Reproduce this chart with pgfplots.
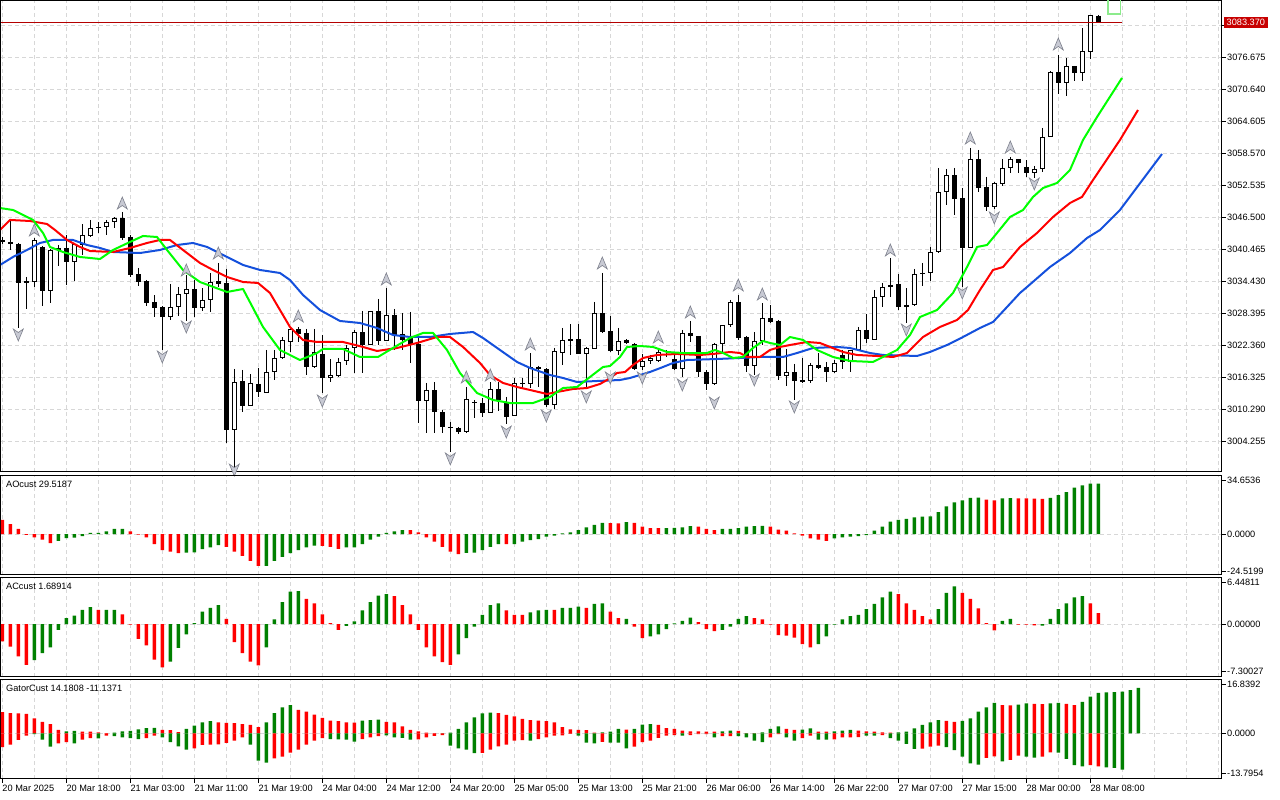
\documentclass[border=0pt]{standalone}
\usepackage{fontspec}
\setmainfont{Liberation Sans}
\usepackage{pgfplots}
\usepackage{pgfplotstable}
\pgfplotsset{compat=1.18}

\definecolor{magreen}{RGB}{0,255,0}
\definecolor{mared}{RGB}{255,0,0}
\definecolor{mablue}{RGB}{20,80,220}
\definecolor{hgreen}{RGB}{0,128,0}
\definecolor{hred}{RGB}{255,0,0}
\definecolor{gridc}{RGB}{215,215,215}
\definecolor{pline}{RGB}{180,0,0}
\definecolor{plabel}{RGB}{200,0,0}
\definecolor{arrowfill}{RGB}{200,202,212}
\definecolor{arrowdraw}{RGB}{125,128,140}
\definecolor{ugreen}{RGB}{140,235,140}

\newcommand{\lbl}{\fontsize{9.2}{11}\selectfont}

\pgfdeclareplotmark{fup}{%
  \pgfpathmoveto{\pgfqpoint{0pt}{6pt}}%
  \pgfpathlineto{\pgfqpoint{5pt}{-6pt}}%
  \pgfpathlineto{\pgfqpoint{0pt}{-2.5pt}}%
  \pgfpathlineto{\pgfqpoint{-5pt}{-6pt}}%
  \pgfpathclose
  \pgfusepathqfillstroke}
\pgfdeclareplotmark{fdown}{%
  \pgfpathmoveto{\pgfqpoint{0pt}{-6pt}}%
  \pgfpathlineto{\pgfqpoint{5pt}{6pt}}%
  \pgfpathlineto{\pgfqpoint{0pt}{2.5pt}}%
  \pgfpathlineto{\pgfqpoint{-5pt}{6pt}}%
  \pgfpathclose
  \pgfusepathqfillstroke}

\pgfplotstableread{
i O H L C
0 3042.30 3042.86 3041.54 3041.92
1 3041.92 3046.26 3040.41 3041.54
2 3041.54 3041.73 3025.70 3034.19
3 3034.19 3035.32 3029.28 3034.56
4 3034.37 3042.67 3033.43 3042.30
5 3040.98 3041.16 3029.85 3032.68
6 3032.68 3040.60 3030.41 3040.41
7 3040.41 3041.35 3037.39 3040.79
8 3040.79 3043.24 3033.81 3038.15
9 3038.15 3041.54 3034.56 3041.54
10 3041.35 3045.31 3039.47 3043.24
11 3043.05 3046.07 3042.86 3044.56
12 3044.56 3045.69 3043.62 3044.75
13 3044.75 3046.07 3043.24 3045.69
14 3045.69 3046.63 3044.56 3046.45
15 3046.45 3047.58 3042.30 3042.67
16 3042.86 3043.24 3035.32 3035.69
17 3035.88 3037.02 3033.62 3034.37
18 3034.56 3034.75 3029.85 3030.41
19 3030.60 3031.92 3027.77 3029.47
20 3029.66 3029.85 3021.55 3027.77
21 3027.77 3034.00 3027.21 3029.66
22 3029.66 3033.43 3027.96 3032.11
23 3032.11 3035.69 3027.02 3033.05
24 3033.05 3034.75 3027.77 3029.47
25 3029.47 3033.24 3028.91 3030.98
26 3030.98 3036.07 3028.72 3034.37
27 3034.56 3037.96 3033.43 3034.00
28 3034.19 3036.83 3004.01 3006.46
29 3006.46 3017.97 2999.30 3015.51
30 3015.70 3017.78 3009.86 3010.99
31 3010.99 3017.02 3010.99 3015.33
32 3015.14 3018.16 3012.69 3013.63
33 3013.44 3021.55 3013.44 3017.40
34 3017.40 3021.55 3015.89 3020.04
35 3020.04 3024.00 3019.85 3023.44
36 3023.06 3025.89 3021.17 3025.51
37 3025.51 3025.89 3023.06 3024.57
38 3024.76 3025.51 3016.83 3018.34
39 3018.34 3025.51 3018.16 3021.17
40 3020.80 3024.38 3013.44 3016.27
41 3016.27 3019.85 3015.51 3016.83
42 3016.65 3020.04 3016.46 3019.29
43 3019.48 3022.49 3018.72 3021.93
44 3021.93 3025.32 3017.21 3024.94
45 3024.94 3028.91 3017.21 3022.49
46 3022.49 3028.91 3022.49 3028.91
47 3028.91 3031.17 3022.49 3023.25
48 3023.25 3033.24 3023.25 3028.15
49 3028.15 3029.28 3021.55 3024.38
50 3024.57 3028.53 3021.55 3023.44
51 3023.81 3028.72 3019.10 3022.68
52 3022.68 3024.00 3007.78 3011.93
53 3011.93 3015.33 3005.90 3014.01
54 3014.01 3015.51 3005.90 3009.86
55 3009.86 3010.23 3005.90 3007.03
56 3007.03 3007.97 3002.31 3006.84
57 3006.84 3007.03 3005.71 3006.08
58 3006.08 3014.57 3005.90 3012.31
59 3011.55 3012.12 3008.73 3011.75
60 3011.55 3012.50 3008.91 3009.67
61 3009.67 3015.51 3009.67 3014.19
62 3014.19 3015.51 3010.05 3012.12
63 3011.55 3012.69 3007.59 3008.91
64 3009.10 3016.27 3009.10 3015.33
65 3015.33 3016.27 3014.38 3015.14
66 3015.14 3020.98 3014.38 3018.34
67 3018.34 3018.53 3014.57 3017.97
68 3017.97 3018.16 3010.80 3011.18
69 3011.18 3021.93 3010.42 3021.36
70 3020.98 3025.70 3018.72 3023.44
71 3023.25 3026.45 3020.61 3023.62
72 3023.62 3026.45 3020.80 3020.80
73 3020.80 3022.12 3014.19 3021.93
74 3021.74 3030.60 3021.74 3028.53
75 3028.53 3036.07 3024.76 3024.94
76 3025.13 3027.96 3021.17 3021.36
77 3021.36 3025.70 3020.61 3023.25
78 3023.44 3023.62 3022.68 3022.87
79 3022.68 3022.87 3017.78 3017.97
80 3018.34 3020.80 3017.78 3019.48
81 3019.48 3020.61 3018.91 3020.04
82 3019.48 3021.93 3019.29 3021.17
83 3020.61 3021.55 3020.23 3020.80
84 3019.85 3021.17 3017.78 3017.97
85 3017.97 3025.32 3016.46 3024.76
86 3024.76 3027.02 3023.06 3024.19
87 3024.19 3024.19 3016.46 3017.40
88 3017.40 3017.78 3014.01 3015.14
89 3015.14 3022.87 3014.95 3022.68
90 3022.68 3026.26 3020.98 3026.26
91 3026.26 3030.98 3025.89 3030.60
92 3030.60 3031.92 3023.44 3023.81
93 3024.00 3024.19 3017.40 3018.53
94 3018.53 3024.94 3016.83 3023.25
95 3023.25 3030.41 3022.49 3027.59
96 3027.59 3030.04 3026.64 3026.83
97 3027.02 3027.21 3015.89 3016.65
98 3016.65 3021.74 3014.76 3017.40
99 3017.40 3018.91 3012.12 3015.70
100 3015.89 3020.04 3015.33 3015.51
101 3015.70 3019.10 3015.33 3018.72
102 3018.72 3020.98 3017.97 3018.16
103 3018.34 3019.29 3015.51 3017.40
104 3017.40 3019.66 3017.21 3019.10
105 3020.61 3021.55 3017.97 3019.29
106 3019.29 3021.55 3017.40 3021.55
107 3021.55 3025.89 3021.55 3025.32
108 3025.32 3028.34 3022.87 3023.62
109 3023.44 3032.87 3023.44 3031.55
110 3031.55 3034.19 3029.66 3033.43
111 3033.43 3038.90 3031.55 3033.81
112 3034.00 3035.88 3029.09 3029.66
113 3029.66 3033.24 3026.64 3030.04
114 3030.04 3036.83 3029.85 3035.88
115 3035.88 3037.96 3033.62 3036.07
116 3036.07 3040.98 3034.56 3040.03
117 3040.03 3055.88 3039.84 3051.35
118 3051.35 3055.69 3048.90 3054.55
119 3054.55 3055.88 3047.01 3050.03
120 3050.22 3052.10 3033.43 3040.79
121 3040.79 3059.65 3040.79 3057.57
122 3057.57 3059.27 3051.35 3052.10
123 3052.29 3054.18 3047.77 3048.52
124 3048.52 3053.23 3048.14 3053.05
125 3052.86 3057.57 3052.48 3055.88
126 3055.88 3057.95 3054.93 3057.57
127 3057.57 3057.57 3054.93 3056.82
128 3056.06 3057.38 3054.18 3054.93
129 3054.93 3056.25 3053.99 3055.69
130 3055.69 3063.42 3055.12 3061.72
131 3061.72 3074.17 3061.72 3073.98
132 3073.98 3077.19 3069.83 3071.91
133 3071.91 3076.62 3069.45 3075.11
134 3075.11 3075.11 3072.28 3073.79
135 3073.79 3082.28 3072.28 3077.94
136 3077.75 3084.73 3076.43 3084.73
137 3084.54 3084.73 3083.20 3083.37
}\candles

\pgfplotstableread{
i p
-0.29 3048.33
1.34 3047.95
3.84 3046.07
5.09 3043.62
5.96 3040.98
7.59 3040.03
9.71 3039.09
12.21 3038.71
13.84 3040.41
15.96 3041.92
17.59 3043.05
19.34 3042.86
20.59 3040.41
22.59 3036.64
24.71 3034.37
28.09 3032.49
30.09 3033.05
32.59 3025.89
34.71 3021.55
37.21 3019.66
39.34 3020.98
40.09 3021.74
42.59 3021.74
44.71 3020.23
46.96 3020.23
48.84 3021.93
50.96 3023.81
52.59 3024.76
53.84 3024.76
55.59 3021.55
57.21 3017.21
59.34 3013.44
61.34 3012.12
63.46 3011.55
66.34 3011.55
68.46 3012.69
70.09 3014.38
71.84 3014.57
73.46 3016.46
75.09 3018.34
75.96 3018.53
77.21 3020.23
78.09 3022.12
79.71 3022.30
81.34 3022.12
83.09 3021.17
85.09 3020.98
88.09 3020.98
89.09 3021.55
90.09 3020.98
91.34 3020.04
92.59 3020.23
93.84 3021.93
95.09 3023.25
95.96 3022.87
97.21 3022.49
98.46 3024.00
100.09 3023.44
101.84 3021.55
103.84 3020.23
105.96 3019.48
108.84 3019.29
110.09 3020.23
111.84 3021.55
113.46 3024.38
114.71 3027.77
116.84 3029.09
118.84 3032.30
120.59 3037.20
121.84 3040.98
123.09 3041.35
124.34 3043.62
125.96 3046.63
127.59 3047.95
128.84 3050.41
130.09 3052.10
131.84 3053.05
133.46 3055.50
135.09 3061.16
136.84 3065.49
139.96 3072.85
}\lips

\pgfplotstableread{
i p
-0.29 3044.18
0.96 3046.07
3.46 3045.88
5.59 3045.31
6.59 3044.18
8.09 3042.30
9.71 3040.98
10.96 3040.22
13.84 3040.03
15.96 3040.79
18.09 3041.73
19.71 3042.30
20.96 3042.30
22.59 3040.41
24.71 3037.96
26.34 3036.64
28.09 3035.32
30.09 3034.37
31.96 3034.19
33.46 3032.30
34.71 3029.09
35.96 3025.89
37.59 3023.44
39.34 3023.06
42.59 3023.06
45.09 3022.12
46.84 3021.36
49.34 3021.93
51.84 3022.87
54.34 3024.00
55.96 3024.00
57.59 3022.12
59.71 3019.10
60.96 3016.83
62.59 3015.33
64.34 3014.57
65.96 3014.01
68.09 3013.25
69.34 3013.63
71.34 3014.19
73.09 3014.38
74.71 3015.14
75.59 3015.89
76.84 3017.21
77.84 3017.40
78.84 3018.72
80.09 3020.04
81.84 3020.61
84.34 3020.80
87.21 3020.61
88.84 3020.80
90.96 3021.17
92.21 3020.98
93.09 3020.23
94.71 3020.23
95.96 3021.55
97.21 3022.12
98.46 3022.49
100.59 3023.06
102.21 3022.87
103.46 3022.12
105.09 3021.17
106.84 3020.61
109.34 3020.42
111.34 3020.23
113.09 3020.98
115.09 3024.00
117.21 3025.89
119.34 3027.21
120.71 3029.09
122.21 3032.87
123.84 3036.64
125.09 3037.20
127.21 3040.98
129.34 3043.62
131.34 3046.63
133.46 3049.27
134.96 3050.41
136.34 3053.61
139.71 3061.16
141.96 3066.81
}\teeth

\pgfplotstableread{
i p
-0.29 3037.58
1.34 3039.09
3.09 3040.41
4.71 3041.73
6.34 3042.30
8.84 3042.30
10.59 3041.35
12.21 3040.79
13.84 3040.03
17.21 3039.84
19.71 3040.41
21.84 3041.35
23.84 3041.73
25.59 3040.98
28.09 3039.09
30.09 3037.58
32.21 3036.64
34.71 3036.07
35.96 3034.75
37.59 3031.92
39.71 3029.09
42.21 3027.02
44.71 3026.64
46.84 3025.70
48.84 3024.38
50.96 3024.00
53.46 3024.00
55.96 3024.57
58.84 3024.94
60.09 3023.81
62.21 3021.55
64.34 3019.29
65.96 3018.16
68.46 3016.83
70.09 3016.27
71.84 3015.51
74.34 3015.70
77.21 3015.89
78.46 3016.27
79.71 3016.83
80.96 3017.40
82.59 3018.34
83.84 3019.10
85.59 3019.66
89.34 3019.85
92.21 3020.04
94.71 3020.23
97.59 3020.23
99.34 3020.98
101.34 3021.93
104.34 3022.12
105.96 3021.93
108.46 3020.98
110.09 3020.61
114.34 3020.42
115.96 3021.17
118.09 3022.49
120.09 3024.00
122.21 3025.70
123.84 3026.83
125.59 3029.66
127.21 3032.30
128.09 3033.43
130.96 3037.20
133.46 3039.84
135.59 3042.67
137.21 3044.18
139.71 3047.95
144.96 3058.52
}\jaw

\pgfplotstableread{
i p
4 3044.18
15 3049.27
23 3036.64
27 3039.84
37 3027.96
48 3034.94
58 3016.46
61 3016.83
66 3022.68
75 3037.96
82 3024.00
86 3028.72
92 3033.81
95 3032.11
111 3040.41
121 3061.53
126 3059.84
132 3079.26
}\fracup

\pgfplotstableread{
i p
2 3024.38
20 3020.23
23 3025.89
29 2998.90
40 3011.93
56 3001.00
63 3006.08
68 3009.10
73 3012.69
76 3016.27
80 3016.27
85 3014.95
89 3011.55
94 3015.89
99 3010.80
113 3025.32
120 3032.30
124 3046.45
129 3052.86
}\fracdown

\pgfplotstableread{
i v c
0 9.2 0
1 6.5 0
2 3.3 0
3 -0.5 0
4 -2.2 0
5 -3.7 0
6 -5.9 0
7 -4.4 1
8 -2.6 1
9 -2.4 1
10 -1.3 1
11 0.7 1
12 0.8 1
13 1.7 1
14 3.3 1
15 3.4 1
16 1.7 0
17 -0.4 0
18 -2.2 0
19 -6.5 0
20 -10.5 0
21 -11.5 0
22 -12.4 0
23 -12.0 1
24 -11.9 1
25 -9.8 1
26 -8.7 1
27 -7.2 1
28 -8.3 0
29 -11.5 0
30 -14.2 0
31 -17.4 0
32 -20.7 0
33 -20.6 1
34 -17.4 1
35 -14.8 1
36 -12.4 1
37 -10.5 1
38 -8.7 1
39 -7.6 1
40 -7.7 0
41 -8.3 0
42 -9.6 0
43 -8.7 1
44 -8.6 1
45 -6.5 1
46 -3.7 1
47 -1.7 1
48 0.7 1
49 1.7 1
50 2.6 1
51 2.5 0
52 1.1 0
53 -2.2 0
54 -5.0 0
55 -8.3 0
56 -11.5 0
57 -13.1 0
58 -12.2 1
59 -12.0 1
60 -10.5 1
61 -8.3 1
62 -6.5 1
63 -6.6 0
64 -6.5 1
65 -5.0 1
66 -3.9 1
67 -3.3 1
68 -1.7 1
69 -1.1 1
70 0.4 1
71 1.1 1
72 2.6 1
73 4.4 1
74 5.9 1
75 7.2 1
76 7.1 0
77 7.0 0
78 7.8 1
79 7.2 0
80 4.8 0
81 3.9 0
82 3.8 0
83 3.9 1
84 4.0 1
85 4.4 1
86 5.2 1
87 4.8 0
88 3.3 0
89 2.6 0
90 3.3 1
91 3.4 1
92 3.9 1
93 4.8 1
94 5.2 1
95 5.3 1
96 4.8 0
97 2.8 0
98 2.2 0
99 0.4 0
100 -1.1 0
101 -2.8 0
102 -3.7 0
103 -4.4 0
104 -2.8 1
105 -2.2 1
106 -1.7 1
107 -1.3 1
108 -0.7 1
109 2.2 1
110 4.8 1
111 8.1 1
112 9.2 1
113 9.8 1
114 10.9 1
115 11.3 1
116 11.4 1
117 14.2 1
118 17.9 1
119 20.5 1
120 21.8 1
121 23.5 1
122 23.6 1
123 22.4 0
124 21.8 0
125 23.1 1
126 23.3 1
127 23.2 0
128 23.1 0
129 23.0 0
130 22.9 0
131 23.5 1
132 25.3 1
133 27.2 1
134 30.1 1
135 31.6 1
136 32.7 1
137 32.8 1
}\aodata

\pgfplotstableread{
i v c
0 -2.7 0
1 -3.5 0
2 -5.0 0
3 -6.3 0
4 -5.6 1
5 -4.5 1
6 -3.6 1
7 -0.9 1
8 0.9 1
9 1.3 1
10 2.2 1
11 2.6 1
12 2.2 0
13 2.2 1
14 2.2 1
15 1.5 0
16 -0.1 0
17 -2.3 0
18 -3.3 0
19 -5.5 0
20 -6.7 0
21 -5.8 1
22 -3.7 1
23 -1.6 1
24 0.15 1
25 1.9 1
26 2.5 1
27 2.9 1
28 0.8 0
29 -2.8 0
30 -4.5 0
31 -5.8 0
32 -6.4 0
33 -3.6 1
34 0.7 1
35 3.4 1
36 5.0 1
37 5.1 1
38 3.9 0
39 3.2 0
40 1.5 0
41 0.15 0
42 -0.9 0
43 -0.3 1
44 0.4 1
45 2.1 1
46 3.4 1
47 4.4 1
48 4.6 1
49 4.3 0
50 2.9 0
51 1.5 0
52 -0.9 0
53 -3.6 0
54 -5.0 0
55 -5.9 0
56 -6.3 0
57 -4.7 1
58 -2.2 1
59 -0.4 1
60 1.4 1
61 2.9 1
62 3.2 1
63 2.1 0
64 1.4 0
65 1.4 0
66 1.8 1
67 2.1 1
68 2.2 1
69 2.2 0
70 2.5 1
71 2.5 1
72 2.7 1
73 2.5 0
74 3.1 1
75 3.2 1
76 1.9 0
77 0.9 0
78 0.8 1
79 -0.4 0
80 -2.2 0
81 -1.9 1
82 -1.6 1
83 -0.8 1
84 0.1 1
85 0.5 1
86 1.0 1
87 0.3 0
88 -0.8 0
89 -1.1 0
90 -0.9 1
91 -0.4 1
92 0.8 1
93 1.2 1
94 0.9 0
95 0.7 0
96 -0.1 0
97 -1.7 0
98 -1.8 0
99 -2.1 0
100 -3.1 0
101 -3.6 0
102 -3.1 1
103 -1.9 1
104 -0.1 1
105 0.7 1
106 1.2 1
107 1.4 1
108 2.3 1
109 3.1 1
110 4.1 1
111 5.0 1
112 4.6 0
113 3.2 0
114 2.2 0
115 1.2 0
116 0.7 0
117 2.3 1
118 4.8 1
119 5.8 1
120 4.8 0
121 3.9 0
122 2.4 0
123 0.15 0
124 -1.0 0
125 0.5 1
126 0.8 1
127 -0.1 0
128 -0.1 0
129 -0.2 0
130 -0.25 1
131 0.8 1
132 2.3 1
133 3.2 1
134 4.1 1
135 4.3 1
136 3.2 0
137 1.69 0
}\acdata

\pgfplotstableread{
i v c
0 7.3 0
1 7.0 0
2 6.9 0
3 6.7 0
4 5.2 0
5 4.0 0
6 3.2 0
7 1.2 0
8 0.7 1
9 0.8 1
10 0.6 0
11 0.6 0
12 0.3 0
13 0.1 0
14 0.2 1
15 0.7 1
16 0.8 1
17 1.4 1
18 1.8 1
19 1.9 1
20 1.2 0
21 1.1 0
22 0.4 0
23 1.5 1
24 2.7 1
25 3.8 1
26 4.2 1
27 3.8 0
28 3.6 0
29 3.5 0
30 3.2 0
31 2.9 0
32 2.1 0
33 3.8 1
34 7.0 1
35 9.0 1
36 9.8 1
37 8.1 0
38 7.5 0
39 6.5 0
40 5.3 0
41 4.4 0
42 4.2 0
43 3.8 0
44 3.7 0
45 4.4 1
46 4.6 1
47 4.7 1
48 4.0 0
49 3.8 0
50 2.4 0
51 1.2 0
52 0.7 0
53 0.2 0
54 0.05 0
55 0.1 1
56 0.2 1
57 1.5 1
58 3.8 1
59 5.5 1
60 6.9 1
61 7.2 1
62 7.0 0
63 6.4 0
64 5.9 0
65 5.0 0
66 4.6 0
67 4.4 0
68 4.2 0
69 3.8 0
70 2.1 0
71 1.4 0
72 1.2 0
73 1.1 0
74 0.2 0
75 0.3 1
76 0.6 1
77 1.5 1
78 1.3 0
79 1.5 1
80 3.0 1
81 3.2 1
82 2.9 0
83 1.8 0
84 1.5 0
85 0.9 0
86 0.7 0
87 0.65 0
88 0.6 0
89 0.55 0
90 0.7 1
91 0.9 1
92 0.8 0
93 0.1 0
94 0.05 0
95 0.3 1
96 1.5 1
97 2.4 1
98 1.5 0
99 1.2 0
100 1.3 1
101 1.7 1
102 0.6 0
103 0.55 0
104 0.7 1
105 0.9 1
106 1.2 1
107 0.9 0
108 0.7 0
109 0.6 0
110 0.3 0
111 0.2 0
112 0.3 1
113 0.6 1
114 1.7 1
115 2.9 1
116 3.8 1
117 4.6 1
118 4.3 0
119 4.0 0
120 4.3 1
121 5.2 1
122 7.5 1
123 9.0 1
124 10.5 1
125 9.8 0
126 9.7 0
127 9.9 1
128 10.4 1
129 10.2 0
130 10.1 0
131 10.4 1
132 10.5 1
133 10.2 0
134 9.8 0
135 10.9 1
136 12.7 1
137 14.0 1
138 14.2 1
139 14.3 1
140 14.4 1
141 15.0 1
142 15.7 1
}\gatorup

\pgfplotstableread{
i v c
0 -4.8 0
1 -3.9 0
2 -2.3 0
3 -0.8 0
4 -0.3 1
5 -2.2 1
6 -4.6 1
7 -3.5 0
8 -3.1 0
9 -3.5 1
10 -2.2 0
11 -1.7 0
12 -1.8 1
13 -0.8 0
14 -1.0 1
15 -1.4 1
16 -1.7 1
17 -2.0 1
18 -1.7 0
19 -0.8 0
20 -1.4 1
21 -3.1 1
22 -4.5 1
23 -5.7 1
24 -5.2 0
25 -4.0 0
26 -3.9 0
27 -3.8 0
28 -3.3 0
29 -2.5 0
30 -1.4 0
31 -3.9 1
32 -9.5 1
33 -10.2 1
34 -8.7 0
35 -8.1 0
36 -6.7 0
37 -5.7 0
38 -3.9 0
39 -2.5 0
40 -1.7 0
41 -2.0 1
42 -2.1 1
43 -2.2 1
44 -2.9 1
45 -2.0 0
46 -1.4 0
47 -1.0 0
48 -0.7 1
49 -1.4 1
50 -1.6 1
51 -2.2 1
52 -2.1 0
53 -1.4 0
54 -0.9 0
55 -0.6 0
56 -4.3 1
57 -5.2 1
58 -5.7 1
59 -6.9 1
60 -6.8 0
61 -5.7 0
62 -4.5 0
63 -3.9 0
64 -2.5 0
65 -2.4 0
66 -2.5 1
67 -2.0 0
68 -1.4 0
69 -0.8 0
70 -0.7 0
71 -0.2 0
72 -0.8 1
73 -3.2 1
74 -3.5 1
75 -3.0 0
76 -3.2 1
77 -3.2 1
78 -5.2 1
79 -4.6 0
80 -3.1 0
81 -2.5 0
82 -1.6 0
83 -0.8 0
84 -0.6 0
85 -0.8 1
86 -0.6 0
87 -0.3 0
88 -0.3 0
89 -1.4 1
90 -1.0 0
91 -1.0 0
92 -1.0 1
93 -1.4 1
94 -2.5 1
95 -3.1 1
96 -1.4 0
97 -0.3 0
98 -1.4 1
99 -2.5 1
100 -1.7 0
101 -0.8 0
102 -2.2 1
103 -2.2 1
104 -2.1 0
105 -1.4 0
106 -1.4 0
107 -1.3 0
108 -0.8 1
109 -0.8 1
110 -0.6 0
111 -1.7 1
112 -2.5 1
113 -3.7 1
114 -5.4 1
115 -5.3 0
116 -4.6 0
117 -4.3 0
118 -4.8 1
119 -5.8 1
120 -8.1 1
121 -10.4 1
122 -10.9 1
123 -8.5 0
124 -8.0 0
125 -9.7 1
126 -9.2 0
127 -7.7 0
128 -8.1 1
129 -8.4 1
130 -8.1 0
131 -6.6 0
132 -6.7 1
133 -8.9 1
134 -11.0 1
135 -11.5 1
136 -11.0 0
137 -11.5 0
138 -11.8 1
139 -12.0 1
140 -12.6 1
}\gatordown

\pgfplotsset{
  mtbase/.style={
    scale only axis, width=1221pt, anchor=south west,
    xmin=-0.1625, xmax=152.46,
    axis line style={line width=1pt, black},
    xtick={0,8,...,136},
    minor xtick={4,12,20,28,36,44,52,60,68,76,84,92,100,108,116,124,132,140,144,148,152},
    xmajorgrids, xminorgrids,
    grid style={gridc, dash pattern=on 4pt off 3pt, line width=1pt},
    xticklabels={},
    tick align=outside, major tick length=4pt, minor tick length=0pt,
    tick style={line width=1pt, black},
    xtick style={draw=none},
    ytick pos=right, yticklabel pos=right,
    xtick pos=bottom,
    every tick label/.append style={font=\lbl},
    yticklabel style={anchor=west, inner sep=0pt, xshift=1pt},
  },
  hbar/.style={ybar, bar width=3.5pt, bar shift=0pt, draw=none, fill=#1},
}

\begin{document}
\begin{tikzpicture}
\useasboundingbox (0,0) rectangle (1280pt,800pt);

% ---------------- main price chart ----------------
\begin{axis}[mtbase, at={(1pt,328pt)}, height=471pt,
  ymin=2998.54, ymax=3087.37,
  ytick={3004.255,3010.290,3016.325,3022.360,3028.395,3034.430,3040.465,3046.500,3052.535,3058.570,3064.605,3070.640,3076.675,3082.710},
  yticklabels={3004.255,3010.290,3016.325,3022.360,3028.395,3034.430,3040.465,3046.500,3052.535,3058.570,3064.605,3070.640,3076.675,3082.710},
  ymajorgrids]
% wicks
\addplot[draw=none, mark=none, forget plot,
  error bars/.cd, y dir=minus, y explicit, error mark=none,
  error bar style={draw=black, solid, line width=1pt}]
  table[x=i, y=H, y error minus expr={\thisrow{H}-\thisrow{L}}] {\candles};
% bearish bodies
\addplot[draw=none, mark=none, forget plot,
  restrict expr to domain={\thisrow{C}-\thisrow{O}}{-1000:0},
  error bars/.cd, y dir=minus, y explicit, error mark=none,
  error bar style={draw=black, solid, line width=5pt}]
  table[x=i, y=O, y error minus expr={\thisrow{O}-\thisrow{C}}] {\candles};
% bullish bodies: outline
\addplot[draw=none, mark=none, forget plot,
  restrict expr to domain={\thisrow{C}-\thisrow{O}}{0:1000},
  error bars/.cd, y dir=minus, y explicit, error mark=none,
  error bar style={draw=black, solid, line width=5pt}]
  table[x=i, y=C, y error minus expr={\thisrow{C}-\thisrow{O}}] {\candles};
% bullish bodies: white inside
\addplot[draw=none, mark=none, forget plot,
  restrict expr to domain={\thisrow{C}-\thisrow{O}}{0:1000},
  error bars/.cd, y dir=minus, y explicit, error mark=none,
  error bar style={draw=white, solid, line width=3pt}]
  table[x=i, y expr={\thisrow{C}-0.19}, y error minus expr={max(\thisrow{C}-\thisrow{O}-0.38,0)}] {\candles};
% alligator lines
\addplot[mablue, line width=2pt, mark=none, line join=round] table[x=i,y=p] {\jaw};
\addplot[mared, line width=2pt, mark=none, line join=round] table[x=i,y=p] {\teeth};
\addplot[magreen, line width=2pt, mark=none, line join=round] table[x=i,y=p] {\lips};
% fractals
\addplot[only marks, mark=fup, mark options={fill=arrowfill, draw=arrowdraw, line width=0.6pt}] table[x=i,y=p] {\fracup};
\addplot[only marks, mark=fdown, mark options={fill=arrowfill, draw=arrowdraw, line width=0.6pt}] table[x=i,y=p] {\fracdown};
% price line
\addplot[pline, line width=1pt, mark=none] coordinates {(-0.2,3083.37) (139.9,3083.37)};
\addplot[ugreen, line width=1.5pt, mark=none] coordinates {(138.2,3088) (138.2,3084.9) (139.8,3084.9) (139.8,3088)};
\coordinate (pl) at (axis cs:152.46,3083.37);
\end{axis}
\node[anchor=west, fill=plabel, text=white, font=\lbl, inner xsep=3pt, inner ysep=0pt, minimum height=11pt] at ([xshift=1.5pt]pl) {3083.370};

% ---------------- AO ----------------
\begin{axis}[mtbase, at={(1pt,225pt)}, height=99pt,
  ymin=-26.6, ymax=37.7,
  ytick={0}, yticklabels={0.0000}, ymajorgrids,
  extra y ticks={-24.5199,34.6536}, extra y tick labels={-24.5199,34.6536},
  extra y tick style={grid=none}]
\addplot[hbar=hgreen, restrict expr to domain={\thisrow{c}}{0.5:1.5}] table[x=i,y=v] {\aodata};
\addplot[hbar=hred, restrict expr to domain={\thisrow{c}}{-0.5:0.5}] table[x=i,y=v] {\aodata};
\node[anchor=north west, inner sep=0pt, font=\lbl] at (rel axis cs:0,1) [xshift=5pt, yshift=-5pt] {AOcust 29.5187};
\end{axis}

% ---------------- AC ----------------
\begin{axis}[mtbase, at={(1pt,123pt)}, height=99pt,
  ymin=-8.19, ymax=7.11,
  ytick={0}, yticklabels={0.00000}, ymajorgrids,
  extra y ticks={-7.30027,6.44811}, extra y tick labels={-7.30027,6.44811},
  extra y tick style={grid=none}]
\addplot[hbar=hgreen, restrict expr to domain={\thisrow{c}}{0.5:1.5}] table[x=i,y=v] {\acdata};
\addplot[hbar=hred, restrict expr to domain={\thisrow{c}}{-0.5:0.5}] table[x=i,y=v] {\acdata};
\node[anchor=north west, inner sep=0pt, font=\lbl] at (rel axis cs:0,1) [xshift=5pt, yshift=-5pt] {ACcust 1.68914};
\end{axis}

% ---------------- Gator ----------------
\begin{axis}[mtbase, at={(1pt,21pt)}, height=99pt,
  ymin=-15.84, ymax=18.47,
  ytick={0}, yticklabels={0.0000}, ymajorgrids,
  extra y ticks={-13.7954,16.8392}, extra y tick labels={-13.7954,16.8392},
  extra y tick style={grid=none},
  xtick style={draw=black, line width=1pt},
  xticklabels={20 Mar 2025,20 Mar 18:00,21 Mar 03:00,21 Mar 11:00,21 Mar 19:00,24 Mar 04:00,24 Mar 12:00,24 Mar 20:00,25 Mar 05:00,25 Mar 13:00,25 Mar 21:00,26 Mar 06:00,26 Mar 14:00,26 Mar 22:00,27 Mar 07:00,27 Mar 15:00,28 Mar 00:00,28 Mar 08:00},
  xticklabel style={anchor=north west, inner sep=0pt, yshift=-2pt}]
\addplot[hbar=hgreen, restrict expr to domain={\thisrow{c}}{0.5:1.5}] table[x=i,y=v] {\gatorup};
\addplot[hbar=hred, restrict expr to domain={\thisrow{c}}{-0.5:0.5}] table[x=i,y=v] {\gatorup};
\addplot[hbar=hgreen, restrict expr to domain={\thisrow{c}}{0.5:1.5}] table[x=i,y=v] {\gatordown};
\addplot[hbar=hred, restrict expr to domain={\thisrow{c}}{-0.5:0.5}] table[x=i,y=v] {\gatordown};
\node[anchor=north west, inner sep=0pt, font=\lbl] at (rel axis cs:0,1) [xshift=5pt, yshift=-5pt] {GatorCust 14.1808 -11.1371};
\end{axis}
\end{tikzpicture}
\end{document}
